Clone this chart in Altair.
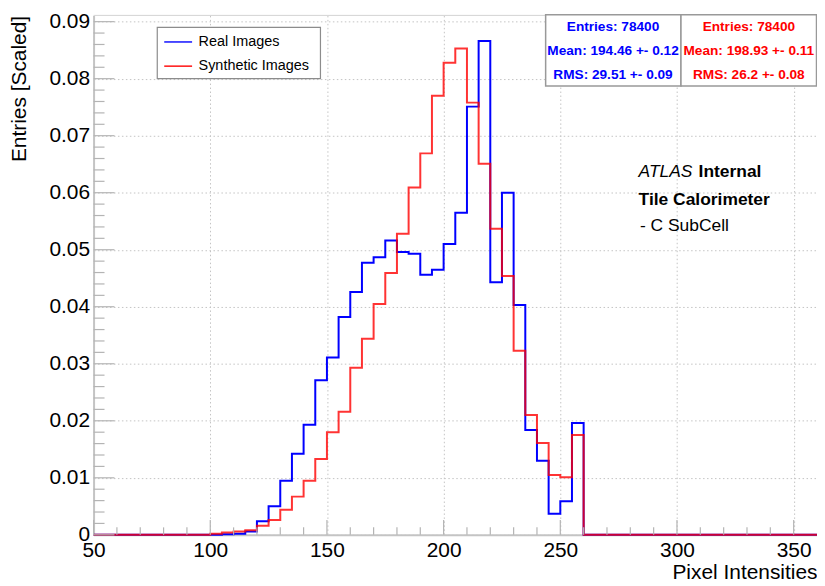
import altair as alt
import pandas as pd

# ---------------- data ----------------
bin_low_edges = list(range(50, 360, 5))  # 62 bins of width 5 from 50 to 360
x_last_edge = 360

real_images = [0.0] * 10 + [
    0.0000, 0.0001, 0.0002, 0.0006, 0.0024, 0.0050, 0.0095, 0.0142, 0.0193, 0.0271,
    0.0311, 0.0382, 0.0426, 0.0477, 0.0487, 0.0516, 0.0496, 0.0493, 0.0456, 0.0465,
    0.0510, 0.0565, 0.0751, 0.0866, 0.0443, 0.0600, 0.0403, 0.0184, 0.0130, 0.0037,
    0.0059, 0.0196] + [0.0] * 20

synthetic_images = [0.0] * 10 + [
    0.0002, 0.0004, 0.0006, 0.0008, 0.0016, 0.0026, 0.0044, 0.0067, 0.0095, 0.0133,
    0.0180, 0.0216, 0.0293, 0.0344, 0.0405, 0.0459, 0.0528, 0.0609, 0.0669, 0.0770,
    0.0828, 0.0853, 0.0758, 0.0651, 0.0537, 0.0454, 0.0323, 0.0210, 0.0161, 0.0105,
    0.0101, 0.0175] + [0.0] * 20

x_label_values = [50, 100, 150, 200, 250, 300, 350]
x_minor_ticks = [v for v in range(60, 360, 10) if v % 50 != 0]
y_label_values = [0, 0.01, 0.02, 0.03, 0.04, 0.05, 0.06, 0.07, 0.08, 0.09]
y_minor_ticks = [round(0.002 * i, 3) for i in range(1, 46) if i % 5 != 0]

stats_real = ["Entries: 78400", "Mean: 194.46 +- 0.12", "RMS: 29.51 +- 0.09"]
stats_synth = ["Entries: 78400", "Mean: 198.93 +- 0.11", "RMS: 26.2 +- 0.08"]
legend_labels = ["Real Images", "Synthetic Images"]

# ---------------- layout / style ----------------
W, H = 727, 522
FONT = "Liberation Sans"
GRAY = "#c4c4c4"
TICK = "#b4b4b4"

xs = alt.Scale(domain=[50, 360], nice=False, zero=False)
ys = alt.Scale(domain=[0, 0.0911], nice=False, zero=False)

x_axis = alt.Axis(
    values=x_label_values, labelFontSize=21, labelFont=FONT, labelColor="#000",
    labelPadding=5, labelFlush=False, labelOverlap=False, ticks=False,
    domain=True, domainColor=GRAY, domainWidth=2,
    grid=True, gridColor=GRAY, gridDash=[1.5, 2.5], gridWidth=1,
    title="Pixel Intensities", titleFont=FONT, titleFontSize=21,
    titleFontWeight="normal", titleColor="#000", titleX=W, titleY=44,
    titleAlign="right", titleBaseline="alphabetic",
)
y_axis = alt.Axis(
    values=y_label_values,
    labelExpr="datum.value == 0 ? '0' : format(datum.value, '.2f')",
    labelFontSize=21, labelFont=FONT, labelColor="#000", labelPadding=4,
    labelOverlap=False, labelFlush=False, ticks=False,
    domain=True, domainColor=GRAY, domainWidth=2,
    grid=True, gridColor=GRAY, gridDash=[1.5, 2.5], gridWidth=1,
    title="Entries [Scaled]", titleFont=FONT, titleFontSize=21,
    titleFontWeight="normal", titleColor="#000", titleX=-68, titleY=0,
    titleAngle=270, titleAlign="right", titleBaseline="alphabetic",
)


def X(field):
    return alt.X(field, scale=xs, axis=x_axis)


def Y(field):
    return alt.Y(field, scale=ys, axis=y_axis)


def hist_df(values):
    return pd.DataFrame({"edge": bin_low_edges + [x_last_edge],
                         "value": values + [values[-1]]})


real_line = alt.Chart(hist_df(real_images)).mark_line(
    interpolate="step-after", strokeWidth=2, color="#0000ff"
).encode(x=X("edge:Q"), y=Y("value:Q"))
synth_line = alt.Chart(hist_df(synthetic_images)).mark_line(
    interpolate="step-after", strokeWidth=2, color="#ff0000", opacity=0.8
).encode(x=X("edge:Q"), y=Y("value:Q"))

# inward ticks (ROOT style)
xmaj = alt.Chart(pd.DataFrame({"t": x_label_values})).mark_rule(color=TICK, strokeWidth=1.2).encode(
    x=X("t:Q"), y=alt.value(H), y2=alt.value(H - 15))
xmin = alt.Chart(pd.DataFrame({"t": x_minor_ticks})).mark_rule(color=TICK, strokeWidth=1.2).encode(
    x=X("t:Q"), y=alt.value(H), y2=alt.value(H - 7.5))
ymaj = alt.Chart(pd.DataFrame({"t": y_label_values})).mark_rule(color=TICK, strokeWidth=1.2).encode(
    y=Y("t:Q"), x=alt.value(0), x2=alt.value(21))
ymin = alt.Chart(pd.DataFrame({"t": y_minor_ticks})).mark_rule(color=TICK, strokeWidth=1.2).encode(
    y=Y("t:Q"), x=alt.value(0), x2=alt.value(11))
top_line = alt.Chart(pd.DataFrame({"a": [0]})).mark_rule(color="#d4d4d4", strokeWidth=1).encode(
    x=alt.value(0), x2=alt.value(W), y=alt.value(0))


def box(x1, x2, y1, y2, stroke="#999", sw=1.5):
    return alt.Chart(pd.DataFrame({"a": [0]})).mark_rect(
        fill="white", stroke=stroke, strokeWidth=sw
    ).encode(x=alt.value(x1), x2=alt.value(x2), y=alt.value(y1), y2=alt.value(y2))


def label(txt, x, y, size, color="#000", weight="normal", style="normal",
          align="left", baseline="middle"):
    return alt.Chart(pd.DataFrame({"t": [txt]})).mark_text(
        font=FONT, fontSize=size, color=color, fontWeight=weight, fontStyle=style,
        align=align, baseline=baseline
    ).encode(text="t:N", x=alt.value(x), y=alt.value(y))


def seg(x1, x2, y, color):
    return alt.Chart(pd.DataFrame({"a": [0]})).mark_rule(color=color, strokeWidth=1.4).encode(
        x=alt.value(x1), x2=alt.value(x2), y=alt.value(y))


layers = [real_line, synth_line, xmaj, xmin, ymaj, ymin, top_line]

# legend
layers += [box(64, 228, 12, 63.5, stroke="#8c8c8c", sw=1.2),
           seg(71, 99, 26.7, "#0000ff"), seg(71, 99, 51, "#ff0000"),
           label(legend_labels[0], 105.5, 26.5, 14.5),
           label(legend_labels[1], 105.5, 51, 14.5)]

# stats boxes
layers += [box(454.3, 590.3, -0.7, 71), box(590.3, 726.5, -0.7, 71)]
for i, yy in enumerate([12, 36, 59.5]):
    layers.append(label(stats_real[i], 522, yy, 13.7, color="#0000ff", weight="bold", align="center"))
    layers.append(label(stats_synth[i], 658.5, yy, 13.7, color="#ff0000", weight="bold", align="center"))

# ATLAS label
layers += [label("ATLAS", 547.7, 162.7, 17.5, style="italic", baseline="alphabetic"),
           label("Internal", 608, 162.7, 17.5, weight="bold", baseline="alphabetic"),
           label("Tile Calorimeter", 547.7, 190.3, 17.5, weight="bold", baseline="alphabetic"),
           label("- C SubCell", 549, 217, 17.5, baseline="alphabetic")]

chart = alt.layer(*layers).properties(
    width=W, height=H,
    autosize=alt.AutoSizeParams(type="none"),
    padding={"left": 86, "top": 6, "right": 0, "bottom": 50},
    background="white",
).configure_view(stroke=None)

chart.save("out.html", embed_options={"renderer": "svg", "actions": False})
